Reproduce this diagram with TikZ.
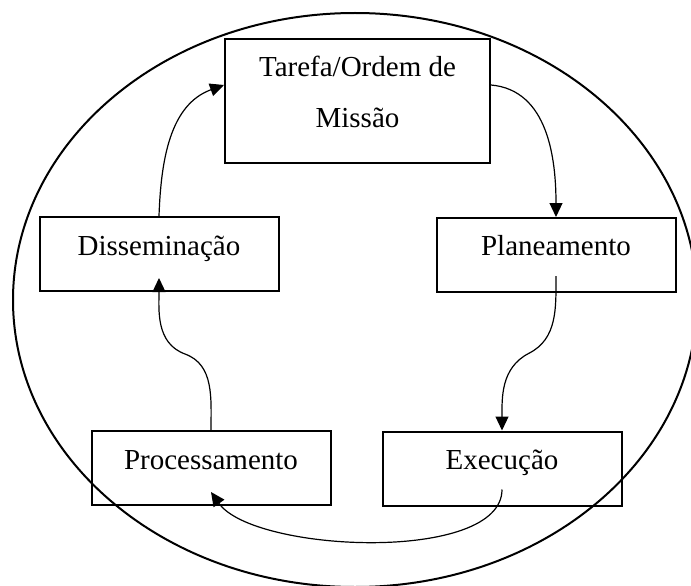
\documentclass[tikz,border=0pt]{standalone}
\usepackage{fontspec}
\setmainfont{Liberation Serif}
\usetikzlibrary{arrows.meta, calc}

\begin{document}
\begin{tikzpicture}[
        x=0.5pt, y=0.5pt,
        >={Triangle[length=7pt, width=6.5pt]},
        phase/.style={draw, line width=1pt, rectangle, minimum width=119.5pt, minimum height=37pt, inner sep=0pt, text height=10pt, text depth=9pt, font=\fontsize{14.5}{25}\selectfont},
        flow/.style={->, line width=0.6pt},
    ]
    \useasboundingbox (0,0) rectangle (691,585);

    % Draw the outer cycle
    \draw[line width=1pt] (355,285) ellipse [x radius=171pt, y radius=143.5pt];

    % Draw the phase boxes
    \node[phase, minimum width=132.5pt, minimum height=62pt, text height=1pt, text depth=25pt] (tasking) at (357.5,484) {\begin{tabular}[t]{@{}c@{}}Tarefa/Ordem de\\Missão\end{tabular}};
    \node[phase] (plan) at (556,330) {Planeamento};
    \node[phase] (exec) at (502,116.5) {Execução};
    \node[phase] (proc) at (211,117) {Processamento};
    \node[phase] (dissem) at (159,331) {Disseminação};

    % Points where the arrows leave or enter inside a box
    \coordinate (plan-out) at ([yshift=8.5pt]plan.south);
    \coordinate (exec-out) at ([yshift=8.5pt]exec.south);
    \coordinate (proc-in) at ([yshift=7pt]proc.south);
    \coordinate (dissem-in) at ([yshift=7pt]dissem.south);

    % Connect the phases around the cycle
    \draw[flow] ([yshift=8pt]tasking.east) to[out=-5, in=90] (plan.north);
    \draw[flow] (plan-out) to[out=-90, in=27] ($(plan-out)!0.5!(exec.north)$) to[out=207, in=90] (exec.north);
    \draw[flow] (exec-out) to[out=-90, in=-55, looseness=0.65] (proc-in);
    \draw[flow] (proc.north) to[out=90, in=-20] ($(proc.north)!0.5!(dissem-in)$) to[out=160, in=-90] (dissem-in);
    \draw[flow] (dissem.north) to[out=88, in=200] ([yshift=8pt]tasking.west);
\end{tikzpicture}
\end{document}
